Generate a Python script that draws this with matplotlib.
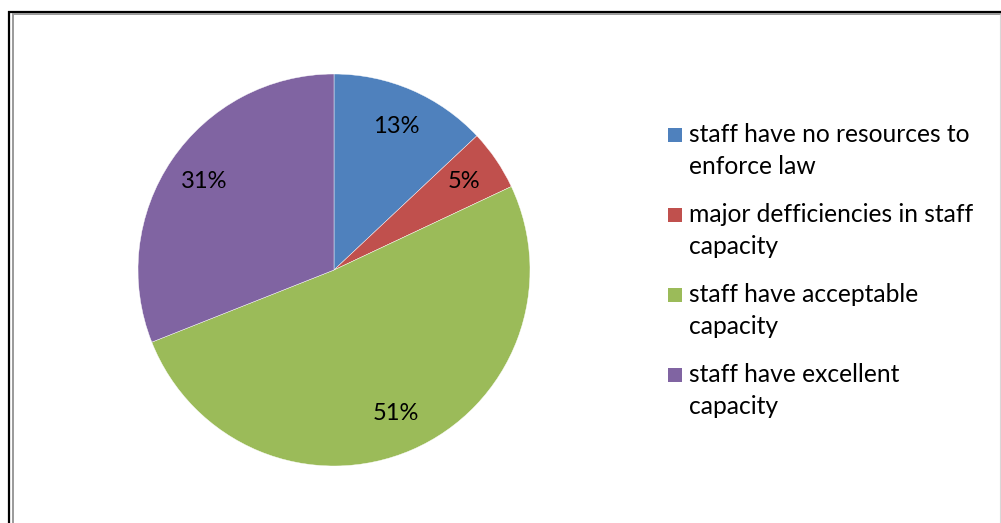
import matplotlib
matplotlib.use("Agg")
import matplotlib.pyplot as plt
from matplotlib.patches import Rectangle
from matplotlib.lines import Line2D

plt.rcParams['font.family'] = ['Lato', 'DejaVu Sans']

labels = [
    "staff have no resources to\nenforce law",
    "major defficiencies in staff\ncapacity",
    "staff have acceptable\ncapacity",
    "staff have excellent\ncapacity",
]
shares = [13, 5, 51, 31]
colors = ["#4F81BD", "#C0504D", "#9BBB59", "#8064A2"]

W, H = 1001, 523
fig = plt.figure(figsize=(W / 100, H / 100), dpi=100)

# pie centre at (334, 270) px, radius 196 px
cx, cy, r = 334, 270, 196
ax = fig.add_axes([(cx - r) / W, (H - cy - r) / H, 2 * r / W, 2 * r / H])
ax.pie(shares, colors=colors, startangle=90, counterclock=False,
       autopct=lambda p: f"{p:.0f}%", pctdistance=0.8,
       wedgeprops=dict(edgecolor="white", linewidth=0.3),
       textprops=dict(fontsize=17, color="black"))
ax.set_xlim(-1, 1)
ax.set_ylim(-1, 1)
ax.set_aspect("equal")

# legend drawn by hand so the marker sits on the first text line
x_box, x_txt = 668, 689
base0, entry_step, line_step = 142, 80, 32
for i, (lab, col) in enumerate(zip(labels, colors)):
    base = base0 + i * entry_step
    fig.patches.append(Rectangle((x_box / W, 1 - base / H), 14 / W, 14 / H,
                                 transform=fig.transFigure, facecolor=col,
                                 edgecolor="none"))
    for j, line in enumerate(lab.split("\n")):
        fig.text(x_txt / W, 1 - (base + j * line_step) / H, line,
                 fontsize=17.7, va="baseline", ha="left", color="black")

# outer frame: black top and left, grey inner shadow, faint right edge
def px_line(x0, y0, x1, y1, color, lw):
    fig.add_artist(Line2D([x0 / W, x1 / W], [1 - y0 / H, 1 - y1 / H],
                          transform=fig.transFigure, color=color,
                          linewidth=lw, solid_capstyle="butt"))

px_line(8, 12, W, 12, "black", 1.6)
px_line(9, 11, 9, H, "black", 1.6)
px_line(13, 14, 13, H, "#9a9a9a", 1.4)
px_line(12, 14, W, 14, "#9a9a9a", 1.4)
px_line(1000, 14, 1000, H, "#d8d8d8", 0.8)

fig.savefig("out.png", dpi=100)
